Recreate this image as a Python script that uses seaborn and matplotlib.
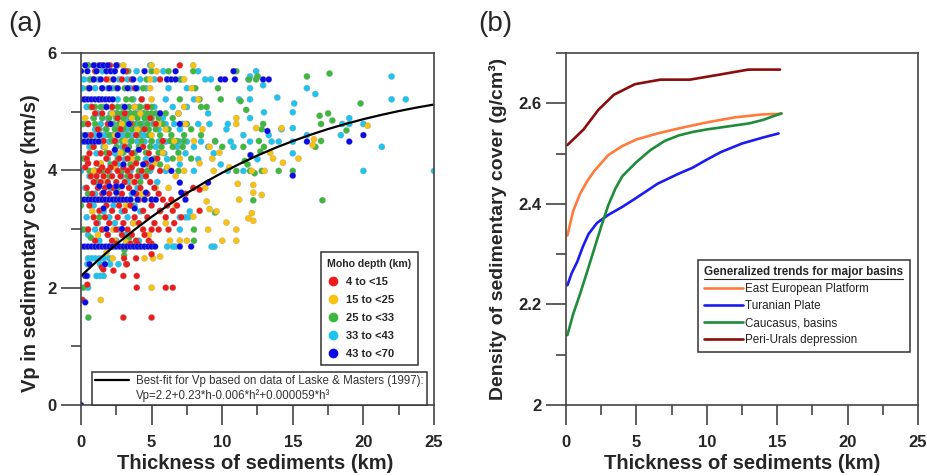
import matplotlib
matplotlib.use("Agg")
import matplotlib.pyplot as plt
from matplotlib.lines import Line2D
from matplotlib.ticker import MultipleLocator, FuncFormatter
import numpy as np
import pandas as pd
import seaborn as sns

# %%
# Vp in sedimentary cover vs thickness
# each row: (Vp, [thickness values])
red_rows = [
    (5.79, [1.47, 2.05, 2.53, 7.0]), (5.69, [1.0, 3.2]), (5.55, [0.9, 1.8, 2.9, 3.59, 5.6]),
    (5.4, [0.6, 3.8]), (5.21, [1.3, 4.3]), (5.08, [0.8, 2.2, 4.7]), (4.97, [1.0, 1.5, 3.1]),
    (4.89, [2.6, 4.9]), (4.79, [0.5, 1.9, 3.5, 5.3]), (4.7, [1.2, 2.8, 4.5]), (4.6, [0.7, 3.9]),
    (4.5, [1.6, 2.4, 5.8]), (4.4, [0.9, 3.1, 4.4]), (4.29, [0.6, 1.4, 2.0, 3.6, 4.8]),
    (4.2, [0.4, 1.8, 2.7, 3.3, 5.4]), (4.12, [0.5, 1.1, 2.4, 3.9, 4.6]),
    (4.05, [0.3, 1.5, 2.1, 3.0, 3.6, 5.0]), (3.99, [1.3, 1.9, 2.6, 3.3, 4.3, 5.6]),
    (3.9, [0.7, 1.1, 1.6, 2.2, 2.8, 3.5, 4.0, 4.6]), (3.8, [0.9, 1.4, 1.9, 2.5, 3.1, 3.8, 4.9]),
    (3.7, [0.4, 1.2, 1.7, 2.3, 3.4, 4.2, 5.2, 7.95]), (3.67, [8.4]),
    (3.6, [0.8, 1.5, 2.0, 2.9, 3.9, 4.7, 5.5, 7.4]), (3.5, [1.1, 2.4, 4.1, 5.8, 6.4]),
    (3.4, [0.6, 1.8, 2.7, 3.5, 5.0, 6.1, 6.8]), (3.31, [1.3, 2.2, 3.1, 4.4, 5.6, 6.5, 8.4]),
    (3.2, [0.9, 1.7, 2.6, 3.8, 4.7, 6.0, 7.1]), (3.1, [1.1, 2.0, 3.0, 4.1, 5.2, 6.6]),
    (2.99, [0.5, 1.5, 2.5, 3.3, 4.4, 5.0, 5.5, 6.2]), (2.9, [1.9, 2.9, 3.6, 4.5]),
    (2.8, [1.0, 2.2, 3.9, 4.8]), (2.75, [2.5, 3.5, 4.0, 5.0]), (2.57, [5.0]),
    (2.5, [3.05, 3.9]), (2.4, [3.2, 3.25]), (2.35, [1.47]), (2.31, [1.58]), (2.29, [2.3]),
    (2.2, [3.0, 3.95]), (2.05, [0.45]), (2.0, [3.95, 6.0, 6.5]), (1.79, [0.12]),
    (1.49, [3.0, 5.0]),
]
yellow_rows = [
    (5.79, [3.0, 5.0, 7.95]), (5.69, [5.35]), (5.55, [2.0, 4.9, 7.3]), (5.4, [4.9, 7.84]),
    (5.21, [5.0, 8.3]), (5.08, [1.8, 3.8, 7.3]), (4.97, [2.2, 4.2, 6.9]), (4.89, [0.3, 3.6, 11.0]),
    (4.79, [2.9, 5.5, 7.4, 11.0]), (4.76, [20.3]), (4.7, [1.2, 4.0, 6.0, 8.6]),
    (4.72, [12.4, 14.2]), (4.6, [2.4, 5.0]), (4.5, [0.7, 3.1, 6.6, 8.0]), (4.53, [16.5]),
    (4.4, [1.7, 4.3, 9.1]), (4.43, [16.4]), (4.3, [2.8, 5.8, 9.8, 13.4]),
    (4.2, [0.4, 3.6, 7.0, 9.3, 13.6, 15.4]), (4.12, [1.4, 5.2, 8.4]), (4.13, [14.3]),
    (4.05, [2.4, 6.1, 10.5]), (3.99, [0.9, 3.3, 7.3, 9.4, 12.1, 13.0]), (3.9, [4.6, 6.7]),
    (3.8, [1.8, 3.7]), (3.77, [11.1]), (3.75, [12.2]), (3.7, [5.3, 6.2, 8.8]),
    (3.62, [12.2]), (3.58, [12.8]), (3.6, [2.6, 4.3]), (3.5, [1.3, 5.0, 11.2]),
    (3.47, [8.9]), (3.4, [3.2, 6.7]), (3.34, [9.1]), (3.3, [0.8, 5.6, 9.6]), (3.27, [12.1]),
    (3.21, [7.95]), (3.18, [11.85]), (3.14, [12.2]), (3.11, [10.3]), (3.1, [3.7, 6.0]),
    (2.99, [2.3, 9.0, 11.0]), (2.9, [1.2, 4.8]), (2.8, [2.4, 6.3, 7.0, 7.5, 10.0, 11.0]),
    (2.78, [3.2]), (2.6, [1.8]), (2.53, [5.6]), (2.5, [2.24, 4.5, 5.1]), (2.0, [5.0]),
    (1.79, [1.4]),
]
green_rows = [
    (5.79, [0.5, 0.99]), (5.69, [3.35, 5.0, 6.2, 7.95, 11.0]), (5.65, [17.6]),
    (5.6, [12.5, 16.0]), (5.55, [0.7, 2.3, 4.65, 7.1, 11.9, 12.4]),
    (5.4, [0.5, 1.5, 2.5, 3.1, 4.4, 8.1, 9.7]), (5.21, [0.3, 3.2, 3.6, 7.0, 8.4, 9.9]),
    (5.18, [11.3]), (5.14, [19.8]),
    (5.08, [0.7, 1.0, 1.4, 1.8, 2.2, 2.6, 3.0, 3.4, 3.8, 4.2, 4.6, 5.0, 8.5, 8.9]),
    (5.03, [11.7]),
    (4.97, [2.3, 2.6, 2.9, 3.2, 3.5, 3.8, 4.1, 4.4, 4.7, 5.0, 5.3, 6.0, 17.5]),
    (4.93, [16.9]),
    (4.89, [0.9, 1.5, 2.0, 2.5, 3.0, 3.5, 4.0, 4.5, 5.0, 5.5, 6.5]), (4.85, [17.8]),
    (4.79, [0.1, 0.5, 1.0, 2.2, 2.7, 3.2, 3.7, 4.2, 4.7, 5.2, 5.8, 7.5, 12.9, 17.0]),
    (4.7, [1.3, 1.8, 2.4, 3.0, 3.6, 4.2, 4.8, 5.3, 6.2, 7.8, 12.8]), (4.68, [18.8]),
    (4.6, [2.0, 2.6, 3.3, 4.0, 4.8, 5.6, 6.4, 7.3, 8.5]),
    (4.5, [1.5, 2.2, 2.9, 3.6, 4.3, 5.0, 5.7, 6.3, 6.8, 7.3, 9.5, 12.6, 17.0]),
    (4.4, [0.8, 2.5, 3.4, 4.1, 4.9, 5.7, 6.5, 7.2, 10.0, 11.5, 12.96, 16.6]),
    (4.32, [12.7]), (4.3, [1.8, 3.0, 3.8, 4.6, 5.5, 6.9]),
    (4.2, [0.2, 2.6, 4.0, 5.2, 6.5, 7.8]), (4.16, [11.6]),
    (4.1, [1.3, 2.1, 3.5, 4.6, 5.6, 11.8]),
    (3.99, [0.6, 1.0, 1.6, 2.9, 4.1, 4.7, 6.9, 11.0, 11.97, 12.8, 14.0, 15.0]),
    (3.95, [12.3]), (3.9, [2.0, 3.3]), (3.8, [1.1, 4.2]), (3.7, [2.6]), (3.6, [0.5, 3.9]),
    (3.49, [1.7, 2.8, 12.2, 17.1]), (3.4, [0.0, 3.6]), (3.28, [9.5]), (3.2, [1.3]),
    (2.99, [0.2, 0.5, 8.0]), (2.85, [0.7, 3.4]), (2.8, [8.0]), (2.64, [3.07]),
    (2.55, [3.05]), (2.0, [0.17]), (1.49, [0.52]),
]
cyan_rows = [
    (5.79, [0.5, 2.6, 4.9]), (5.69, [1.5, 2.3, 3.2, 3.94, 5.83, 8.3, 12.4]),
    (5.6, [11.97, 12.5, 22.0]),
    (5.55, [0.2, 0.6, 1.2, 2.7, 3.3, 4.2, 5.2, 6.1, 7.0, 8.8, 9.2, 11.85]), (5.45, [12.9]),
    (5.4, [0.1, 1.0, 1.9, 2.2, 3.5, 4.0, 4.6, 6.2, 7.5, 11.97, 16.0]), (5.3, [16.6]),
    (5.24, [13.9]), (5.21, [2.6, 3.7, 4.3, 6.0, 8.0, 11.2, 11.97, 22.0, 23.0]),
    (5.14, [15.1]), (5.08, [0.4, 0.7, 1.6, 2.9, 4.1, 5.2, 6.5, 7.5]), (4.99, [12.96, 15.0]),
    (4.97, [1.2, 2.1, 2.5, 3.0, 3.5, 4.0, 4.5, 5.6, 6.9, 9.0]),
    (4.89, [0.9, 1.9, 3.2, 4.7, 5.8, 11.97, 19.0]),
    (4.79, [0.2, 1.4, 2.3, 2.8, 3.1, 3.9, 4.4, 5.1, 5.4, 6.0, 6.6, 7.2, 8.3, 9.1, 10.4,
            18.5, 19.0, 20.0]),
    (4.72, [15.0]), (4.7, [1.0, 1.75, 2.5, 3.25, 4.0, 5.5, 7.0, 10.3, 14.2]),
    (4.6, [0.0, 0.25, 0.5, 0.75, 1.0, 1.25, 1.5, 1.75, 2.0, 2.25, 2.5, 2.75, 3.0, 3.25,
           3.5, 3.75, 4.0, 4.25, 4.5, 11.5, 13.3, 16.0, 18.4]),
    (4.49, [0.0, 0.5, 1.0, 1.5, 2.0, 2.5, 3.0, 3.5, 4.0, 4.5, 5.0, 5.5, 6.0, 6.5, 7.0, 7.5,
            8.5, 9.5, 10.6, 11.97, 13.5, 14.0, 15.0]),
    (4.4, [0.6, 1.6, 2.9, 4.2, 5.3, 6.8, 8.0, 9.0, 10.8, 21.3]),
    (4.29, [1.1, 2.4, 3.6, 5.9, 7.4, 9.4, 15.0]), (4.19, [0.4, 1.9, 3.1, 4.6, 6.1, 8.3, 12.5]),
    (4.1, [1.4, 2.6, 5.0, 7.0, 9.9]),
    (3.99, [0.0, 1.0, 2.0, 3.5, 4.9, 6.0, 8.0, 10.4, 11.5, 20.0, 25.0]),
    (3.9, [0.6, 2.9, 4.3]), (3.8, [1.2, 3.4, 5.4]), (3.7, [0.3, 2.1, 4.0]),
    (3.6, [1.0, 2.7, 3.6]), (3.5, [0.5, 1.5, 2.5, 3.5, 4.5]), (3.4, [0.9, 2.3, 3.8]),
    (3.3, [1.6, 2.9, 4.2, 7.7]), (3.2, [0.4, 2.0, 3.3, 7.0, 7.4, 7.6]),
    (3.1, [1.2, 2.4, 3.7]), (2.99, [0.0, 1.0, 1.5, 2.7, 7.0]), (2.9, [0.5, 1.9, 3.2]),
    (2.8, [1.3, 2.5, 4.1]), (2.7, [1.0, 2.0, 3.0, 4.0, 6.1, 6.5, 6.7, 9.25, 9.45]),
    (2.5, [0.5, 0.75, 1.0, 1.3, 1.6, 2.0]), (2.4, [0.45, 1.35, 2.06, 2.65]),
    (2.2, [0.45, 1.1, 1.35, 1.6]), (2.0, [0.5]),
]
blue_rows = [
    (5.79, [0.3, 0.9, 1.3, 1.6, 1.9, 2.5]),
    (5.69, [0.0, 0.45, 1.1, 1.8, 2.1, 2.4, 3.0, 4.5, 6.7, 10.8]),
    (5.55, [0.9, 1.4, 2.3, 3.7, 6.1, 6.4, 6.7, 9.9, 10.2, 10.9, 12.9, 13.3]),
    (5.4, [0.6, 1.5, 2.0, 2.6, 3.3, 3.9]),
    (5.21, [0.0, 0.25, 0.5, 0.75, 1.0, 1.25, 1.5, 1.75, 2.0, 2.25]),
    (5.08, [1.8, 3.1]), (4.97, [5.6]), (4.79, [2.1, 3.4, 7.0]), (4.67, [13.2]),
    (4.6, [0.3, 1.3, 2.6, 20.0]), (4.49, [0.0, 0.25, 0.5, 0.75, 1.0, 1.25, 16.0, 19.0]),
    (4.35, [2.4, 3.3, 4.1]), (4.26, [12.0]), (4.18, [5.0]), (4.1, [3.0, 4.4]), (3.99, [6.4]),
    (3.91, [15.0]), (3.79, [7.0, 9.0]), (3.73, [1.3, 2.0, 2.5, 2.9]),
    (3.62, [1.6, 2.5, 3.7, 4.6, 7.1]),
    (3.5, [0.0, 0.25, 0.5, 0.75, 1.0, 1.25, 1.5, 1.75, 2.0, 2.25, 2.5, 2.75, 3.0, 3.25,
           3.5, 4.0, 4.5, 5.0, 5.3, 7.4]),
    (3.35, [1.6, 3.8]), (3.0, [1.8, 2.9]),
    (2.7, [0.0, 0.25, 0.5, 0.75, 1.0, 1.25, 1.5, 1.75, 2.0, 2.25, 2.5, 2.75, 3.0, 3.25,
           3.5, 3.75, 4.0, 4.25, 4.5, 4.75, 5.0, 5.25, 7.0, 7.8]),
    (2.4, [0.6, 1.7]), (2.2, [0.3, 0.4]), (1.75, [0.3]), (0.0, [0.0]),
]

moho_labels = ["4 to <15", "15 to <25", "25 to <33", "33 to <43", "43 to <70"]
moho_colors = ["#ee1b1b", "#f8c20e", "#3cb93c", "#1bc5ef", "#0a0ae6"]

# best-fit curve (Laske & Masters 1997)
fit_h = [0, 1.25, 2.5, 3.75, 5, 6.25, 7.5, 8.75, 10, 11.25, 12.5, 13.75, 15, 16.25,
         17.5, 18.75, 20, 21.25, 22.5, 23.75, 25]
fit_vp = [2.2, 2.478, 2.738, 2.981, 3.207, 3.418, 3.612, 3.793, 3.959, 4.112, 4.253,
          4.382, 4.499, 4.606, 4.704, 4.792, 4.872, 4.944, 5.010, 5.069, 5.122]

# density trends for major basins (panel b)
basins = ["East European Platform", "Turanian Plate", "Caucasus, basins",
          "Peri-Urals depression"]
basin_colors = ["#ff7a3c", "#1c1cf0", "#1e8c3a", "#8b0c0c"]
eep_h = [0.1, 0.5, 1.0, 1.5, 2.0, 3.0, 4.0, 5.0, 6.5, 8.0, 10.0, 12.0, 14.0, 15.3]
eep_rho = [2.337, 2.385, 2.42, 2.445, 2.465, 2.497, 2.515, 2.528, 2.54, 2.55, 2.562,
           2.572, 2.578, 2.579]
tur_h = [0.1, 0.4, 0.8, 1.2, 1.6, 2.2, 3.0, 4.0, 5.0, 6.5, 8.0, 9.0, 10.0, 11.0, 12.5,
         14.0, 15.1]
tur_rho = [2.238, 2.262, 2.285, 2.315, 2.34, 2.362, 2.378, 2.394, 2.412, 2.44, 2.46,
           2.472, 2.488, 2.503, 2.52, 2.532, 2.54]
cau_h = [0.1, 0.5, 1.0, 1.5, 2.0, 2.5, 3.0, 3.5, 4.0, 5.0, 6.0, 7.0, 8.0, 9.0, 10.0,
         11.0, 12.0, 13.0, 14.0, 15.3]
cau_rho = [2.139, 2.18, 2.221, 2.265, 2.31, 2.355, 2.397, 2.43, 2.455, 2.483, 2.507,
           2.525, 2.536, 2.543, 2.548, 2.552, 2.556, 2.56, 2.567, 2.58]
pu_h = [0.1, 1.25, 2.3, 3.4, 4.9, 6.7, 8.8, 10.9, 12.95, 15.2]
pu_rho = [2.517, 2.548, 2.587, 2.617, 2.638, 2.647, 2.647, 2.657, 2.667, 2.667]


def rows_to_frame(rows, label):
    xs, ys = [], []
    for vp, hs in rows:
        xs += hs
        ys += [vp] * len(hs)
    return pd.DataFrame({"thickness": xs, "vp": ys, "moho": label})


# drawing order: cyan, green, yellow, red, blue on top
scatter_df = pd.concat([
    rows_to_frame(cyan_rows, moho_labels[3]),
    rows_to_frame(green_rows, moho_labels[2]),
    rows_to_frame(yellow_rows, moho_labels[1]),
    rows_to_frame(red_rows, moho_labels[0]),
    rows_to_frame(blue_rows, moho_labels[4]),
], ignore_index=True)

dens_df = pd.concat([
    pd.DataFrame({"h": eep_h, "rho": eep_rho, "basin": basins[0]}),
    pd.DataFrame({"h": tur_h, "rho": tur_rho, "basin": basins[1]}),
    pd.DataFrame({"h": cau_h, "rho": cau_rho, "basin": basins[2]}),
    pd.DataFrame({"h": pu_h, "rho": pu_rho, "basin": basins[3]}),
], ignore_index=True)

# %%
sns.set_style("ticks")
plt.rcParams["font.family"] = ["Liberation Sans", "DejaVu Sans"]
spine_col = "#444444"

fig = plt.figure(figsize=(9.28, 4.76), dpi=100)
ax1 = fig.add_axes([81 / 928, 1 - 405 / 476, 353 / 928, 352 / 476])
ax2 = fig.add_axes([566 / 928, 1 - 405 / 476, 352 / 928, 352 / 476])


def style_axis(ax):
    for s in ax.spines.values():
        s.set_color(spine_col)
        s.set_linewidth(1.2)
    ax.tick_params(which="major", direction="out", length=14.4, width=1.2,
                   color=spine_col, labelsize=12, pad=3)
    ax.tick_params(which="minor", direction="out", length=7.2, width=1.2, color=spine_col)
    ax.tick_params(axis="x", which="major", pad=7)
    ax.tick_params(top=False, right=False)
    for lab in ax.get_xticklabels() + ax.get_yticklabels():
        lab.set_fontweight("bold")


# ---- panel (a)
sns.scatterplot(data=scatter_df, x="thickness", y="vp", hue="moho",
                hue_order=moho_labels, palette=dict(zip(moho_labels, moho_colors)),
                s=20, linewidth=0.2, edgecolor="#999999", legend=False, ax=ax1)
sns.lineplot(x=fit_h, y=fit_vp, color="black", lw=1.6, ax=ax1)
ax1.set_xlim(0, 25)
ax1.set_ylim(0, 6)
ax1.xaxis.set_major_locator(MultipleLocator(5))
ax1.xaxis.set_minor_locator(MultipleLocator(2.5))
ax1.yaxis.set_major_locator(MultipleLocator(2))
ax1.yaxis.set_minor_locator(MultipleLocator(1))
ax1.set_xlabel("Thickness of sediments (km)", fontsize=14.5, fontweight="bold")
ax1.set_ylabel("Vp in sedimentary cover (km/s)", fontsize=14.5, fontweight="bold")
ax1.xaxis.set_label_coords(0.493, -0.138)
ax1.yaxis.set_label_coords(-0.116, 0.46)
style_axis(ax1)

fit_handles = [Line2D([], [], color="black", lw=1.6), Line2D([], [], lw=0, alpha=0)]
fit_labels = ["Best-fit for Vp based on data of Laske & Masters (1997):",
              "Vp=2.2+0.23*h-0.006*h\u00b2+0.000059*h\u00b3"]
leg_fit = ax1.legend(fit_handles, fit_labels, loc="lower left",
                     bbox_to_anchor=(0.031, 0.0), borderaxespad=0, fontsize=8.3,
                     handlelength=2.9, handletextpad=0.6, labelspacing=0.12,
                     borderpad=0.3, frameon=True, fancybox=False, framealpha=1,
                     edgecolor="#333333", labelcolor="#333333")
leg_fit.get_frame().set_linewidth(1.1)
ax1.add_artist(leg_fit)

moho_handles = [Line2D([], [], marker="o", ls="", markersize=7, color=c,
                       markeredgewidth=0) for c in moho_colors]
leg_moho = ax1.legend(moho_handles, moho_labels, title="Moho depth (km)",
                      loc="upper right", bbox_to_anchor=(0.955, 0.435), borderaxespad=0,
                      prop={"size": 8, "weight": "bold"},
                      title_fontproperties={"size": 7.6, "weight": "bold"},
                      handlelength=1.0, handletextpad=0.7, labelspacing=0.72,
                      borderpad=0.6, alignment="left", frameon=True, fancybox=False,
                      framealpha=1, edgecolor="#333333")
leg_moho.get_frame().set_linewidth(1.1)

# ---- panel (b)
sns.lineplot(data=dens_df, x="h", y="rho", hue="basin", hue_order=basins,
             palette=dict(zip(basins, basin_colors)), lw=1.9, sort=False,
             estimator=None, legend=False, ax=ax2)
ax2.set_xlim(0, 25)
ax2.set_ylim(2.0, 2.7)
ax2.xaxis.set_major_locator(MultipleLocator(5))
ax2.xaxis.set_minor_locator(MultipleLocator(2.5))
ax2.yaxis.set_major_locator(MultipleLocator(0.2))
ax2.yaxis.set_minor_locator(MultipleLocator(0.1))
ax2.yaxis.set_major_formatter(FuncFormatter(lambda v, p: f"{v:g}"))
ax2.set_xlabel("Thickness of sediments (km)", fontsize=14.5, fontweight="bold")
ax2.set_ylabel("Density of sedimentary cover (g/cm\u00b3)", fontsize=14,
               fontweight="bold")
ax2.xaxis.set_label_coords(0.5, -0.138)
ax2.yaxis.set_label_coords(-0.168, 0.5)
style_axis(ax2)

basin_handles = [Line2D([], [], color=c, lw=1.9) for c in basin_colors]
leg_b = ax2.legend(basin_handles, basins, title="Generalized trends for major basins",
                   loc="upper right", bbox_to_anchor=(0.977, 0.412), borderaxespad=0,
                   fontsize=8.4, title_fontproperties={"size": 8.4, "weight": "bold"},
                   handlelength=3.3, handletextpad=0.15, labelspacing=0.42,
                   borderpad=0.55, alignment="left", frameon=True, fancybox=False,
                   framealpha=1, edgecolor="#333333", labelcolor="#222222")
leg_b.get_frame().set_linewidth(1.1)

fig.text(8 / 928, 1 - 11 / 476, "(a)", fontsize=20, va="top", ha="left")
fig.text(478 / 928, 1 - 11 / 476, "(b)", fontsize=20, va="top", ha="left")

# underline the legend title of panel (b)
fig.canvas.draw()
tb = leg_b.get_title().get_window_extent()
fig.add_artist(Line2D([tb.x0 / 928, tb.x1 / 928], [(tb.y0 - 0.5) / 476] * 2,
                      transform=fig.transFigure, color="#222222", lw=0.8))

fig.savefig("out.png", dpi=100)
